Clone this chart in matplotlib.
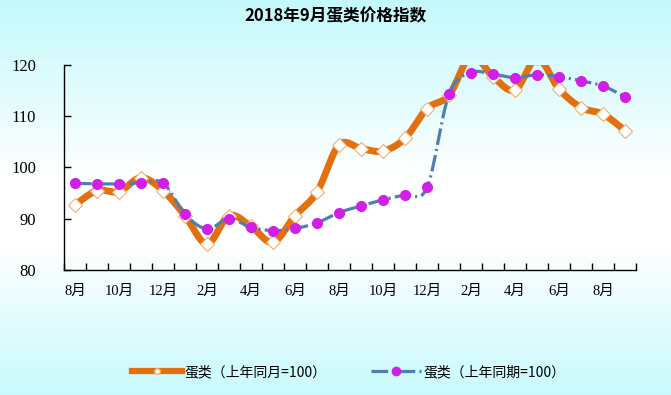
import numpy as np
import matplotlib
matplotlib.use("Agg")
import matplotlib.pyplot as plt
from matplotlib.colors import LinearSegmentedColormap
from matplotlib.lines import Line2D

# ---- data ----
months = ["8月", "9月", "10月", "11月", "12月", "1月", "2月", "3月", "4月", "5月", "6月", "7月",
          "8月", "9月", "10月", "11月", "12月", "1月", "2月", "3月", "4月", "5月", "6月", "7月",
          "8月", "9月"]
yoy_month = [92.7, 95.5, 95.3, 98.0, 95.5, 90.6, 85.1, 90.6, 88.5, 85.4, 90.6, 95.2,
             104.4, 103.7, 103.2, 105.7, 111.5, 114.1, 121.8, 117.7, 115.1, 121.3, 115.3, 111.7,
             110.4, 107.2]
yoy_period = [96.9, 96.8, 96.8, 97.0, 97.0, 90.9, 88.0, 90.0, 88.3, 87.7, 88.1, 89.2,
              91.2, 92.5, 93.7, 94.7, 96.1, 114.3, 118.5, 118.2, 117.5, 118.1, 117.7, 116.9,
              115.9, 113.8]
yticks = [80, 90, 100, 110, 120]
label_a = "蛋类（上年同月=100）"
label_b = "蛋类（上年同期=100）"
title = "2018年9月蛋类价格指数"

plt.rcParams["lines.scale_dashes"] = False
serif_cjk = ["Liberation Serif", "Noto Sans CJK SC"]


def smooth(xs, ys, n=20):
    xs = np.asarray(xs, float)
    ys = np.asarray(ys, float)
    P = np.column_stack([xs, ys])
    out = []
    for i in range(len(P) - 1):
        p0 = P[i - 1] if i > 0 else P[i]
        p1 = P[i]
        p2 = P[i + 1]
        p3 = P[i + 2] if i + 2 < len(P) else P[i + 1]
        c1 = p1 + (p2 - p0) / 6.0
        c2 = p2 - (p3 - p1) / 6.0
        t = np.linspace(0, 1, n, endpoint=(i == len(P) - 2))[:, None]
        seg = ((1 - t) ** 3) * p1 + 3 * ((1 - t) ** 2) * t * c1 + 3 * (1 - t) * t ** 2 * c2 + t ** 3 * p2
        out.append(seg)
    out = np.vstack(out)
    return out[:, 0], out[:, 1]


fig = plt.figure(figsize=(6.71, 3.95), dpi=100)

# background gradient
bg = fig.add_axes([0, 0, 1, 1], zorder=-10)
cmap = LinearSegmentedColormap.from_list(
    "bg", [(0.0, "#c4f9fc"), (0.45, "#ffffff"), (0.62, "#ffffff"), (1.0, "#c8fafd")])
grad = np.linspace(0, 1, 256)[:, None]
bg.imshow(grad, aspect="auto", cmap=cmap, extent=[0, 1, 0, 1], origin="upper")
bg.set_axis_off()

ax = fig.add_axes([0.0954, 0.3165, 0.8525, 0.519])
ax.patch.set_alpha(0)
x = np.arange(len(months))

sx, sy = smooth(x, yoy_month)
ax.plot(sx, sy, color="#e3700f", lw=5, solid_capstyle="round", zorder=3)
ax.plot(x, yoy_month, ls="none", marker="D", ms=7, mfc="white", mec="#f0b070", mew=0.8, zorder=4)

sx2, sy2 = smooth(x, yoy_period)
ax.plot(sx2, sy2, color="#4f7fb0", lw=2.3, dashes=(12, 3, 1.5, 3), zorder=5)
ax.plot(x, yoy_period, ls="none", marker="o", ms=7, mfc="#d020e8", mec="#d020e8", zorder=6)

ax.set_xlim(-0.5, len(months) - 0.5)
ax.set_ylim(80, 120)
ax.set_yticks(yticks)
ax.set_yticklabels([str(v) for v in yticks], fontfamily=serif_cjk, fontsize=12)
ax.set_xticks(np.arange(-0.5, len(months), 1.0))
ax.set_xticklabels([])
ax.set_xticks(x[::2], minor=True)
ax.set_xticklabels(months[::2], minor=True, fontfamily=serif_cjk, fontsize=10.5)
ax.tick_params(axis="x", which="major", direction="in", length=5, width=1)
ax.tick_params(axis="x", which="minor", length=0, pad=11)
ax.tick_params(axis="y", direction="in", length=5, width=1, pad=20)
for s in ["top", "right"]:
    ax.spines[s].set_visible(False)
for s in ["left", "bottom"]:
    ax.spines[s].set_linewidth(1)
    ax.spines[s].set_color("black")

fig.text(0.5, 0.96, title, ha="center", va="center", fontsize=12, fontweight="bold",
         fontfamily=["Noto Sans CJK SC", "DejaVu Sans"])

h1 = Line2D([], [], color="#e3700f", lw=4.5, marker="o", ms=4, mfc="white", mec="#f0b070")
h2 = Line2D([], [], color="#4f7fb0", lw=2.3, dashes=(12, 3, 1.5, 3), marker="o", ms=6,
            mfc="#d020e8", mec="#d020e8", markevery=[1])
leg = fig.legend([h1, h2], [label_a, label_b], loc="center", bbox_to_anchor=(0.52, 0.058),
                 ncol=2, frameon=False, handlelength=3.6, columnspacing=3.2, handletextpad=0.2,
                 prop={"family": ["Noto Sans CJK SC", "DejaVu Sans"], "size": 10})

fig.savefig("out.png", dpi=100)
